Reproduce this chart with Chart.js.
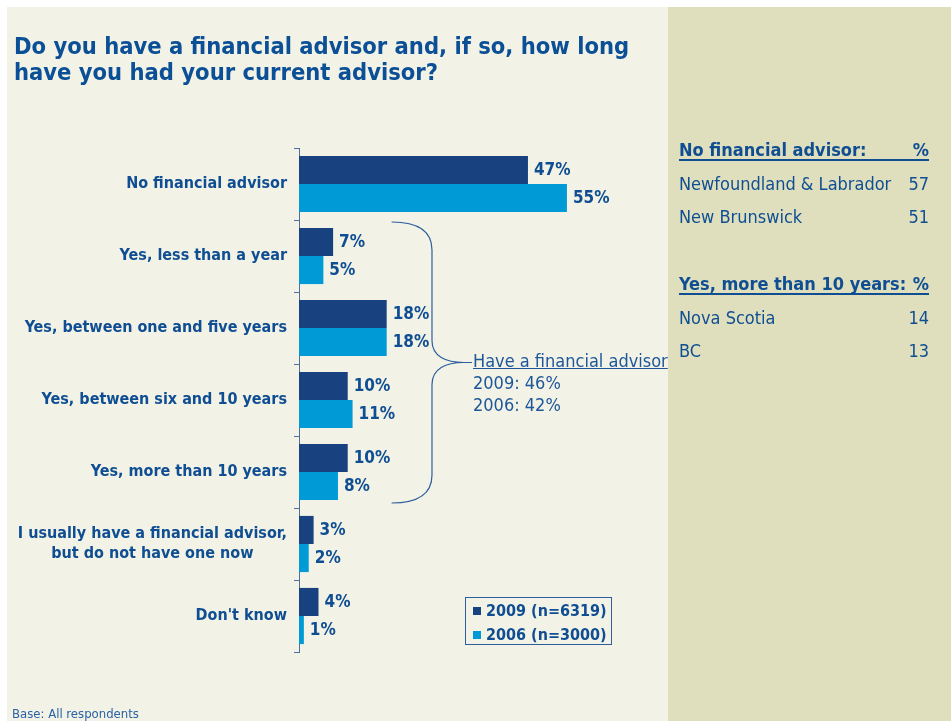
<!DOCTYPE html>
<html>
<head>
<meta charset="utf-8">
<script src="https://cdn.jsdelivr.net/npm/chart.js@4/dist/chart.umd.min.js"></script>
<style>
  body { margin: 0; width: 951px; height: 721px; overflow: hidden; background: #ffffff; position: relative;
         font-family: 'DejaVu Sans Condensed', 'DejaVu Sans', sans-serif; color: #0f4e92; }
  #leftPanel { position: absolute; left: 7px; top: 7px; width: 661px; height: 714px; background: #f2f2e6; }
  #rightPanel { position: absolute; left: 668px; top: 7px; width: 283px; height: 714px; background: #dfdfbd; }
  #myChart { position: absolute; left: 0; top: 0; }
  #title { position: absolute; left: 14px; top: 33px; font-weight: bold; font-size: 23.5px; line-height: 26px; color: #0b4f96; }
  #note { position: absolute; left: 12px; top: 706px; font-size: 13px; color: #2a62a6; }
  #advisor { position: absolute; left: 473px; top: 350px; font-size: 18px; line-height: 22px; color: #1d5799; }
  #advisor .hd { text-decoration: underline; }
  .rp { position: absolute; left: 679px; width: 250px; font-size: 18px; line-height: 20px; }
  .rp span { position: absolute; right: 0; top: 0; }
  .rp.hd { font-weight: bold; border-bottom: 2px solid #0f4e92; height: 19px; }
  #legend { position: absolute; left: 465px; top: 597px; width: 145px; height: 46px; border: 1px solid #2d5f9e; }
  #legend div { position: absolute; left: 20px; font-weight: bold; font-size: 16px; line-height: 20px; }
  #legend i { position: absolute; left: -13px; top: 6px; width: 8px; height: 8px; }
</style>
</head>
<body>
<div id="leftPanel"></div>
<div id="rightPanel"></div>
<canvas id="myChart" width="951" height="721"></canvas>
<div id="title">Do you have a financial advisor and, if so, how long<br>have you had your current advisor?</div>
<div id="advisor"></div>
<div id="legend"></div>
<div id="right"></div>
<div id="note">Base: All respondents</div>

<script>
const categories = [
  "No financial advisor",
  "Yes, less than a year",
  "Yes, between one and five years",
  "Yes, between six and 10 years",
  "Yes, more than 10 years",
  ["I usually have a financial advisor,", "but do not have one now"],
  "Don't know",
];
const values2009 = [47, 7, 18, 10, 10, 3, 4];
const values2006 = [55, 5, 18, 11, 8, 2, 1];
const seriesNames = ["2009 (n=6319)", "2006 (n=3000)"];

const haveAdvisor = ["Have a financial advisor", "2009: 46%", "2006: 42%"];

const noAdvisorRegions = ["Newfoundland & Labrador", "New Brunswick"];
const noAdvisorValues = [57, 51];
const tenYearRegions = ["Nova Scotia", "BC"];
const tenYearValues = [14, 13];

const FONT = "'DejaVu Sans Condensed', 'DejaVu Sans', sans-serif";
const TEXT = "#0f4e92";
const DARK = "#17427f";
const LIGHT = "#009bd6";
const AXIS = "#4d6f9f";

// y labels drawn by hand so the two-line one is centred
const labelPlugin = {
  id: "labels",
  afterDraw(chart) {
    const ctx = chart.ctx;
    const y = chart.scales.y;
    ctx.save();
    ctx.fillStyle = TEXT;
    ctx.textBaseline = "middle";
    ctx.textAlign = "center";
    ctx.font = "bold 16px " + FONT;
    categories.forEach((lab, i) => {
      const lines = Array.isArray(lab) ? lab : [lab];
      const w = Math.max(...lines.map((l) => ctx.measureText(l).width));
      const cx = chart.chartArea.left - 12 - w / 2;
      const yc = y.getPixelForValue(i);
      lines.forEach((l, k) => {
        ctx.fillText(l, cx, yc + (k - (lines.length - 1) / 2) * 20);
      });
    });

    // value labels
    ctx.textAlign = "left";
    ctx.font = "bold 17px " + FONT;
    chart.data.datasets.forEach((ds, d) => {
      chart.getDatasetMeta(d).data.forEach((bar, i) => {
        ctx.fillText(ds.data[i] + "%", bar.x + 6, bar.y + 1);
      });
    });

    // brace round the "have an advisor" rows
    const x = chart.scales.x;
    const top = (y.getPixelForValue(0) + y.getPixelForValue(1)) / 2 + 2;
    const bot = (y.getPixelForValue(4) + y.getPixelForValue(5)) / 2 - 5;
    const mid = (top + bot) / 2;
    const x0 = x.getPixelForValue(19);
    const x1 = x.getPixelForValue(27.3);
    const x2 = x.getPixelForValue(35.5);
    ctx.strokeStyle = "#2d5f9e";
    ctx.lineWidth = 1.2;
    ctx.beginPath();
    ctx.moveTo(x0, top);
    ctx.bezierCurveTo(x0 + 28, top, x1, top + 10, x1, top + 28);
    ctx.lineTo(x1, mid - 22);
    ctx.bezierCurveTo(x1, mid - 6, x1 + 14, mid, x2 - 8, mid);
    ctx.lineTo(x2, mid);
    ctx.moveTo(x2 - 8, mid);
    ctx.bezierCurveTo(x1 + 14, mid, x1, mid + 6, x1, mid + 22);
    ctx.lineTo(x1, bot - 28);
    ctx.bezierCurveTo(x1, bot - 10, x0 + 28, bot, x0, bot);
    ctx.stroke();
    ctx.restore();
  },
};

const ctx = document.querySelector("#myChart").getContext("2d");
const chart = new Chart(ctx, {
  type: "bar",
  data: {
    labels: categories,
    datasets: [
      { label: seriesNames[0], data: values2009, backgroundColor: DARK },
      { label: seriesNames[1], data: values2006, backgroundColor: LIGHT },
    ],
  },
  options: {
    indexAxis: "y",
    responsive: false,
    animation: false,
    layout: { padding: { left: 0, top: 148, right: 311, bottom: 69 } },
    datasets: { bar: { categoryPercentage: 0.78, barPercentage: 1 } },
    plugins: { legend: { display: false }, tooltip: { enabled: false } },
    scales: {
      x: { display: false, min: 0, max: 70 },
      y: {
        afterFit: (s) => { s.width = 299; },
        grid: { drawOnChartArea: false, drawTicks: true, tickLength: 5, color: AXIS, offset: true },
        border: { color: AXIS, width: 1 },
        ticks: { display: false },
      },
    },
  },
  plugins: [labelPlugin],
});

// annotation text
document.getElementById("advisor").innerHTML = haveAdvisor
  .map((t, i) => `<div class="${i === 0 ? "hd" : ""}">${t}</div>`)
  .join("");

// legend
const colors = [DARK, LIGHT];
document.getElementById("legend").innerHTML = seriesNames
  .map((n, i) => `<div style="top:${3 + i * 24}px"><i style="background:${colors[i]}"></i>${n}</div>`)
  .join("");

// right panel
function block(head, names, vals, y0) {
  let html = `<div class="rp hd" style="top:${y0}px">${head}<span>%</span></div>`;
  names.forEach((n, i) => {
    html += `<div class="rp" style="top:${y0 + 34 + i * 33}px">${n}<span>${vals[i]}</span></div>`;
  });
  return html;
}
document.getElementById("right").innerHTML =
  block("No financial advisor:", noAdvisorRegions, noAdvisorValues, 140) +
  block("Yes, more than 10 years:", tenYearRegions, tenYearValues, 274);
</script>
</body>
</html>
